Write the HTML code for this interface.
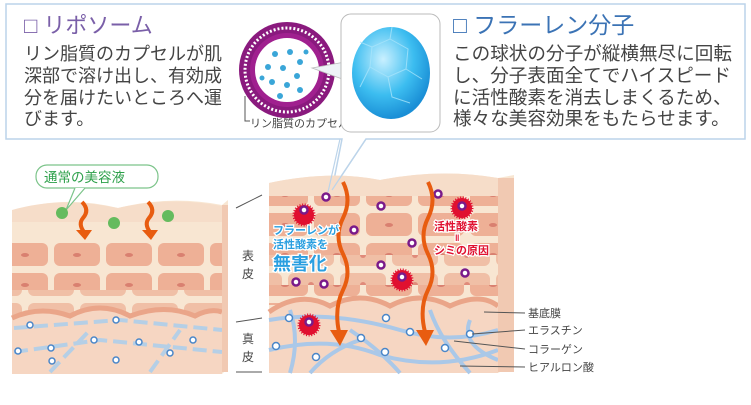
<!DOCTYPE html>
<html><head><meta charset="utf-8"><style>
html,body{margin:0;padding:0;background:#fff;}
body{width:751px;height:400px;overflow:hidden;font-family:"Liberation Sans","Noto Sans CJK JP",sans-serif;}
text{font-family:"Liberation Sans","Noto Sans CJK JP",sans-serif;}
</style></head><body>
<svg width="751" height="400" viewBox="0 0 751 400" xmlns="http://www.w3.org/2000/svg">
<defs>
<radialGradient id="ful" cx="40%" cy="35%" r="65%"><stop offset="0" stop-color="#c9f0ff"/><stop offset="0.6" stop-color="#3cbdf0"/><stop offset="1" stop-color="#1a8fd6"/></radialGradient>
<pattern id="cells" width="52" height="30" patternUnits="userSpaceOnUse">
<rect width="52" height="30" fill="#f8e6d2"/>
<rect x="2" y="3" width="46" height="23" rx="6" fill="#eeb096"/>
<ellipse cx="25" cy="15" rx="4" ry="2" fill="#d98070"/>
</pattern>
<pattern id="cells2" width="52" height="30" patternUnits="userSpaceOnUse" x="26">
<rect width="52" height="30" fill="#f8e6d2"/>
<rect x="2" y="3" width="46" height="23" rx="6" fill="#f0bfa6"/>
<ellipse cx="25" cy="15" rx="3" ry="3" fill="#e08a7a"/>
</pattern>
</defs>
<!-- top box -->
<path d="M6 4 H745 V139 H366 L332 190 L342 139 H6 Z" fill="#fff" stroke="#bcd4ea" stroke-width="1.5"/>
<text x="24" y="33" font-size="22" fill="#7a5fa8">□ リポソーム</text>
<g font-size="18" fill="#444">
<text x="24" y="60">リン脂質のカプセルが肌</text>
<text x="24" y="82">深部で溶け出し、有効成</text>
<text x="24" y="104">分を届けたいところへ運</text>
<text x="24" y="125">びます。</text>
</g>
<text x="453" y="33" font-size="23" fill="#3b73b5">□ フラーレン分子</text>
<g font-size="18.6" fill="#444">
<text x="453" y="60">この球状の分子が縦横無尽に回転</text>
<text x="453" y="82">し、分子表面全てでハイスピード</text>
<text x="453" y="104">に活性酸素を消去しまくるため、</text>
<text x="453" y="125">様々な美容効果をもたらせます。</text>
</g>
<!-- liposome -->
<circle cx="287" cy="70" r="48" fill="#8a1a7e"/>
<circle cx="287" cy="70" r="42" fill="none" stroke="#fff" stroke-width="3" stroke-dasharray="2 2"/>
<circle cx="287" cy="70" r="37" fill="#a0208f"/>
<circle cx="287" cy="70" r="32" fill="#fff"/>
<g fill="#3aa6d8">
<circle cx="275" cy="54" r="3"/><circle cx="290" cy="52" r="3"/><circle cx="300" cy="62" r="3"/><circle cx="268" cy="67" r="3"/><circle cx="283" cy="68" r="3"/><circle cx="297" cy="76" r="3"/><circle cx="272" cy="82" r="3"/><circle cx="287" cy="85" r="3"/><circle cx="280" cy="96" r="3"/><circle cx="300" cy="90" r="3"/><circle cx="262" cy="78" r="2.5"/><circle cx="306" cy="52" r="2.5"/>
</g>
<path d="M245 96 V121 H250" fill="none" stroke="#555" stroke-width="1"/>
<text x="250" y="127" font-size="11" fill="#444">リン脂質のカプセル</text>
<path d="M312 68 L345 62 L345 80 Z" fill="#eef3f7" stroke="#bbb" stroke-width="0.8"/>
<rect x="341" y="14" width="99" height="118" rx="10" fill="#fff" stroke="#bbb" stroke-width="1"/>
<ellipse cx="391" cy="73" rx="39" ry="46" fill="url(#ful)"/>
<g fill="none" stroke="#a8e4fb" stroke-width="1" opacity="0.8">
<path d="M372 47 L390 39 L408 49 L406 69 L388 77 L370 67 Z"/><path d="M388 77 L392 97 L410 103 M370 67 L360 87 M406 69 L422 79 M390 39 L392 27 M372 47 L360 42"/>
</g>
<!-- left block -->
<path d="M12 212 Q60 194 118 208 Q170 195 222 205 L228 200 V368 L222 374 H12 Z" fill="#f8e6d2"/>
<rect x="12" y="240" width="212" height="75" fill="url(#cells)"/>
<rect x="12" y="290" width="212" height="25" fill="url(#cells2)"/>
<path d="M12 210 Q60 196 118 208 Q170 196 222 206 V222 H12 Z" fill="#f6ddc9"/>
<path d="M12 318 Q40 305 70 316 Q100 300 130 316 Q165 303 195 316 Q210 308 222 312 V374 H12 Z" fill="#f6d6c2"/>
<path d="M12 318 Q40 305 70 316 Q100 300 130 316 Q165 303 195 316 Q210 308 222 312" fill="none" stroke="#eaa589" stroke-width="5"/>
<g stroke="#b5cfe6" stroke-width="4" fill="none" stroke-dasharray="14 6">
<path d="M14 328 L120 320 L222 330"/><path d="M14 352 L100 340 L222 352"/><path d="M50 372 L90 330 M150 372 L180 330"/>
</g>
<g fill="#fff" stroke="#4a86c8" stroke-width="1.5">
<circle cx="30" cy="325" r="3"/><circle cx="51" cy="348" r="3"/><circle cx="116" cy="320" r="3"/><circle cx="94" cy="340" r="3"/><circle cx="139" cy="342" r="3"/><circle cx="193" cy="340" r="3"/><circle cx="170" cy="353" r="3"/><circle cx="18" cy="351" r="3"/><circle cx="116" cy="360" r="3"/><circle cx="52" cy="361" r="3"/>
</g>
<rect x="222" y="205" width="6" height="167" fill="#f1c9b2"/>
<!-- green bubble -->
<rect x="36" y="165" width="122" height="23" rx="11" fill="#fff" stroke="#7cc48a" stroke-width="1.2"/>
<path d="M75 188 L66 210 L85 188" fill="#fff" stroke="#7cc48a" stroke-width="1.2"/>
<text x="44" y="182" font-size="13.5" fill="#2da04a">通常の美容液</text>
<g fill="#65bb5e"><circle cx="62" cy="213" r="6"/><circle cx="114" cy="223" r="6"/><circle cx="168" cy="216" r="6"/></g>
<g fill="none" stroke="#e85c10" stroke-width="4"><path d="M82 202 Q90 210 83 218 Q78 224 84 232"/><path d="M148 202 Q156 210 149 218 Q144 224 150 232"/></g>
<g fill="#e85c10"><path d="M76 230 L92 230 L85 240 Z"/><path d="M142 230 L158 230 L151 240 Z"/></g>
<!-- middle labels -->
<g stroke="#555" stroke-width="1"><path d="M236 208 L262 195"/><path d="M236 322 L262 318"/><path d="M236 372 L262 372"/></g>
<g font-size="12" fill="#444"><text x="242" y="260">表</text><text x="242" y="278">皮</text><text x="242" y="343">真</text><text x="242" y="361">皮</text></g>
<!-- right block -->
<path d="M269 183 Q330 170 380 180 Q440 168 498 178 L514 175 V365 L498 373 H269 Z" fill="#f8e6d2"/>
<rect x="269" y="195" width="229" height="110" fill="url(#cells)"/>
<rect x="269" y="255" width="229" height="30" fill="url(#cells2)"/>
<path d="M269 183 Q330 170 380 180 Q440 168 498 178 V196 H269 Z" fill="#f6ddc9"/>
<path d="M269 312 Q300 290 330 306 Q360 290 390 306 Q420 290 450 306 Q480 292 498 306 V373 H269 Z" fill="#f6d6c2"/>
<path d="M269 312 Q300 290 330 306 Q360 290 390 306 Q420 290 450 306 Q480 292 498 306" fill="none" stroke="#eaa589" stroke-width="5"/>
<g stroke="#aac8e8" stroke-width="4" fill="none">
<path d="M269 320 Q330 310 400 330 Q450 345 498 330"/><path d="M269 350 Q330 335 380 355 Q440 372 498 350"/>
<path d="M290 310 Q300 340 290 373"/><path d="M350 330 Q380 350 400 373"/><path d="M430 310 Q440 340 470 373"/><path d="M470 320 Q460 345 498 360"/><path d="M310 373 Q330 350 360 340"/>
</g>
<g fill="#fff" stroke="#4a86c8" stroke-width="1.5">
<circle cx="289" cy="318" r="3.5"/><circle cx="276" cy="346" r="3.5"/><circle cx="316" cy="357" r="3.5"/><circle cx="361" cy="338" r="3.5"/><circle cx="386" cy="318" r="3.5"/><circle cx="410" cy="332" r="3.5"/><circle cx="445" cy="348" r="3.5"/><circle cx="470" cy="334" r="3.5"/><circle cx="385" cy="352" r="3.5"/>
</g>
<rect x="498" y="178" width="16" height="194" fill="#f1c9b2"/>
<!-- red stars -->
<g fill="#e01030">
<circle cx="304" cy="215" r="10" stroke="#e01030" stroke-width="3" stroke-dasharray="1 1.5"/>
<circle cx="462" cy="208" r="10" stroke="#e01030" stroke-width="3" stroke-dasharray="1 1.5"/>
<circle cx="402" cy="280" r="10" stroke="#e01030" stroke-width="3" stroke-dasharray="1 1.5"/>
<circle cx="309" cy="325" r="10" stroke="#e01030" stroke-width="3" stroke-dasharray="1 1.5"/>
</g>
<g fill="#fff" stroke="#7a1a8a" stroke-width="2.5">
<circle cx="304" cy="210" r="3.5"/><circle cx="462" cy="206" r="3.5"/><circle cx="402" cy="277" r="3.5"/><circle cx="309" cy="322" r="3.5"/>
<circle cx="326" cy="197" r="3.5"/><circle cx="381" cy="206" r="3.5"/><circle cx="438" cy="194" r="3.5"/><circle cx="354" cy="230" r="3.5"/><circle cx="412" cy="243" r="3.5"/><circle cx="381" cy="265" r="3.5"/><circle cx="465" cy="273" r="3.5"/><circle cx="296" cy="282" r="3.5"/><circle cx="324" cy="284" r="3.5"/>
</g>
<!-- orange wavy arrows -->
<g fill="none" stroke="#e85c10" stroke-width="4">
<path d="M343 182 Q352 200 343 218 Q334 236 343 254 Q352 272 343 290 Q334 308 339 332"/>
<path d="M428 182 Q437 200 428 218 Q419 236 428 254 Q437 272 428 290 Q419 308 425 332"/>
</g>
<g fill="#e85c10"><path d="M330 330 L348 330 L340 346 Z"/><path d="M416 330 L434 330 L426 346 Z"/></g>
<!-- texts in block -->
<g font-weight="bold" fill="#2a9fe0" stroke="#fff" stroke-width="2.5" paint-order="stroke">
<text x="273" y="234" font-size="11">フラーレンが</text>
<text x="273" y="248" font-size="11">活性酸素を</text>
<text x="273" y="270" font-size="18">無害化</text>
</g>
<g font-weight="bold" fill="#e01030" font-size="11" stroke="#fff" stroke-width="2.5" paint-order="stroke">
<text x="434" y="230">活性酸素</text><text x="455" y="241" font-size="9">‖</text><text x="434" y="254">シミの原因</text>
</g>
<!-- right labels -->
<g stroke="#555" stroke-width="1"><path d="M484 312 L525 313"/><path d="M472 334 L525 330"/><path d="M454 341 L525 349"/><path d="M460 366 L525 367"/></g>
<g font-size="11" fill="#444"><text x="528" y="317">基底膜</text><text x="528" y="334">エラスチン</text><text x="528" y="353">コラーゲン</text><text x="528" y="371">ヒアルロン酸</text></g>
<!-- callout line -->
<path d="M340 139 L328 192 M366 139 L332 190" stroke="#bcd4ea" stroke-width="1.2" fill="none"/>
</svg>
</body></html>
